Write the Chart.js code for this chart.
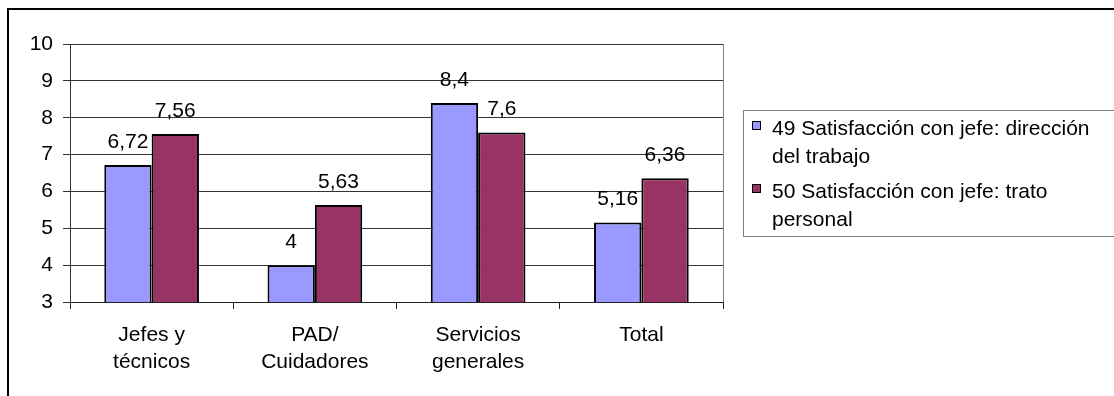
<!DOCTYPE html>
<html>
<head>
<meta charset="utf-8">
<script src="https://cdn.jsdelivr.net/npm/chart.js@4"></script>
<style>
  html, body { margin: 0; padding: 0; background: #fff; }
  canvas { display: block; }
</style>
</head>
<body>
<canvas id="chart" width="1114" height="396"></canvas>
<script>
// data
const categories = [['Jefes y', 'técnicos'], ['PAD/', 'Cuidadores'], ['Servicios', 'generales'], 'Total'];
const seriesNames = [
    '49 Satisfacción con jefe: dirección del trabajo',
    '50 Satisfacción con jefe: trato personal'
];
// how the legend wraps each name
const legendLines = [
    ['49 Satisfacción con jefe: dirección', 'del trabajo'],
    ['50 Satisfacción con jefe: trato', 'personal']
];
const direccion = [6.72, 4, 8.4, 5.16];
const trato = [7.56, 5.63, 7.6, 6.36];
const yTicks = [3, 4, 5, 6, 7, 8, 9, 10];

const FONT = '"Liberation Sans", Arial, sans-serif';
const FS = 21;
const colors = ['#9999FF', '#993366'];

const fmt = v => String(v).replace('.', ',');

// outer frame, plot border, bar value labels and the boxed legend
const extras = {
    id: 'extras',
    afterDatasetsDraw(chart) {
        const ctx = chart.ctx;
        ctx.save();
        ctx.font = FS + 'px ' + FONT;
        ctx.fillStyle = '#000';
        ctx.textAlign = 'center';
        ctx.textBaseline = 'alphabetic';
        chart.data.datasets.forEach((ds, i) => {
            chart.getDatasetMeta(i).data.forEach((el, j) => {
                ctx.fillText(fmt(ds.data[j]), el.x, el.y - 17);
            });
        });
        ctx.restore();
    },
    afterDraw(chart) {
        const ctx = chart.ctx;
        const a = chart.chartArea;
        ctx.save();
        // right border of plot area
        ctx.strokeStyle = '#808080';
        ctx.lineWidth = 1;
        ctx.beginPath();
        ctx.moveTo(Math.round(a.right) + 0.5, a.top);
        ctx.lineTo(Math.round(a.right) + 0.5, a.bottom);
        ctx.stroke();

        // outer frame
        ctx.strokeStyle = '#000';
        ctx.lineWidth = 2;
        ctx.strokeRect(8, 9, 1200, 500);

        // legend box
        ctx.strokeStyle = '#808080';
        ctx.lineWidth = 1;
        ctx.strokeRect(743.5, 110.5, 400, 126);
        ctx.font = FS + 'px ' + FONT;
        ctx.textAlign = 'left';
        ctx.textBaseline = 'alphabetic';
        const itemTop = [121, 184];
        legendLines.forEach((lines, i) => {
            ctx.fillStyle = colors[i];
            ctx.fillRect(752, itemTop[i], 8, 8);
            ctx.strokeStyle = '#000';
            ctx.strokeRect(752.5, itemTop[i] + 0.5, 8, 8);
            ctx.fillStyle = '#000';
            lines.forEach((t, k) => {
                ctx.fillText(t, 772, itemTop[i] + 14 + k * 28);
            });
        });
        ctx.restore();
    }
};

new Chart(document.getElementById('chart'), {
    type: 'bar',
    data: {
        labels: categories,
        datasets: [
            {
                label: seriesNames[0],
                data: direccion,
                backgroundColor: colors[0],
                borderColor: '#000',
                borderWidth: 2
            },
            {
                label: seriesNames[1],
                data: trato,
                backgroundColor: colors[1],
                borderColor: '#000',
                borderWidth: 2
            }
        ]
    },
    options: {
        responsive: false,
        animation: false,
        devicePixelRatio: 1,
        categoryPercentage: 0.58,
        barPercentage: 1.0,
        layout: { padding: { left: 0, top: 44, right: 391, bottom: 0 } },
        plugins: {
            legend: { display: false },
            tooltip: { enabled: false }
        },
        scales: {
            x: {
                afterFit(scale) { scale.height = 94; },
                grid: {
                    offset: true,
                    drawOnChartArea: false,
                    tickLength: 7,
                    color: '#222'
                },
                border: { color: '#222', width: 1 },
                ticks: {
                    color: '#000',
                    padding: 13,
                    font: { family: FONT, size: FS, lineHeight: 1.29 },
                    maxRotation: 0
                }
            },
            y: {
                min: 3,
                max: 10,
                afterFit(scale) { scale.width = 70; },
                afterBuildTicks(scale) { scale.ticks = yTicks.map(v => ({ value: v })); },
                grid: { color: '#333', tickLength: 7 },
                border: { color: '#333', width: 1 },
                ticks: {
                    color: '#000',
                    padding: 10,
                    font: { family: FONT, size: FS }
                }
            }
        }
    },
    plugins: [extras]
});
</script>
</body>
</html>
